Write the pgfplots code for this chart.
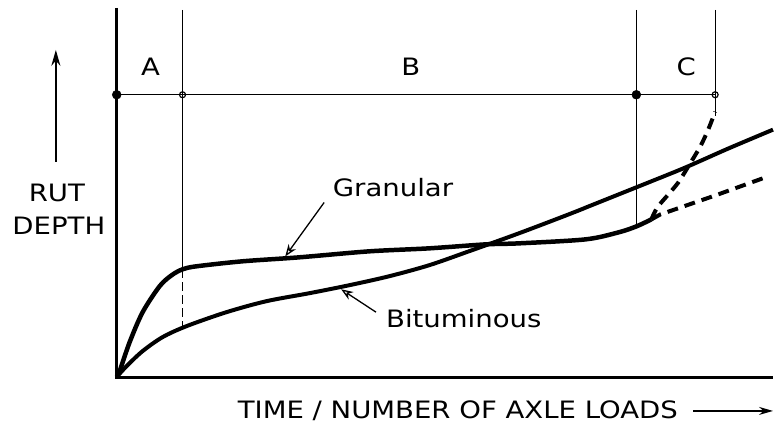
\documentclass[border=0pt]{standalone}
\usepackage{fontspec}
\setmainfont[FakeStretch=1.15]{DejaVu Sans}
\usepackage{pgfplots}
\pgfplotsset{compat=1.18}
\usetikzlibrary{arrows.meta}

\begin{document}
\begin{tikzpicture}
\begin{axis}[
  scale only axis, width=658pt, height=370pt,
  xmin=0, xmax=658, ymin=0, ymax=370,
  axis lines=none, clip=false,
  font=\fontsize{24}{28}\selectfont,
]
\path (axis cs:-117,-46) rectangle (axis cs:658,378);

% axes
\addplot[black, line width=3pt] coordinates {(0,370) (0,0) (658,0)};

% phase boundaries
\addplot[black, line width=1.1pt] coordinates {(66,368) (66,108)};
\addplot[black, line width=1.1pt, dash pattern=on 9pt off 4pt] coordinates {(66,108) (66,50)};
\addplot[black, line width=1.1pt] coordinates {(521,368) (521,151)};
\addplot[black, line width=1.1pt] coordinates {(600,368) (600,262)};
\addplot[black, line width=1.5pt] coordinates {(0,283) (600,283)};
\addplot[black, only marks, mark=*, mark size=4.5pt] coordinates {(0,283) (521,283)};
\addplot[black, only marks, mark=o, mark size=3pt, mark options={line width=1.2pt, fill=white}] coordinates {(66,283) (600,283)};

% granular
\addplot[black, line width=4.5pt, smooth, tension=0.5] coordinates {
 (0,0) (3,6) (13,35) (26,65) (43,91) (55,102) (66,108) (80,111)
 (126,116) (183,120) (253,126) (313,129) (370,133) (403,134)
 (470,138) (503,145) (521,151) (536,158)
};
\addplot[black, line width=4pt, dash pattern=on 11pt off 7pt] coordinates {
 (536,158) (545,163) (600,182) (650,200)
};
\addplot[black, line width=4pt, smooth, dash pattern=on 11pt off 7pt] coordinates {
 (536,158) (542,170) (553,183) (563,195) (573,211) (585,231) (593,248) (600,266)
};

% bituminous
\addplot[black, line width=4pt, smooth, tension=0.5] coordinates {
 (0,0) (10,11) (26,26) (46,40) (70,51) (110,65) (150,76) (193,84)
 (233,92) (273,101) (313,112) (353,126) (403,144) (453,163)
 (483,175) (533,195) (570,210) (613,229) (658,248)
};

% labels
\node at (axis cs:34,311) {A};
\node at (axis cs:295,311) {B};
\node at (axis cs:571,311) {C};
\node at (axis cs:277,190) {Granular};
\node at (axis cs:348,59) {Bituminous};
\addplot[black, line width=1.3pt, -{Stealth[length=12pt, width=9pt, open]}] coordinates {(208,175) (169,121)};
\addplot[black, line width=1.3pt, -{Stealth[length=12pt, width=9pt, open]}] coordinates {(260,65) (225,88)};

\node at (axis cs:-60,185) {RUT};
\node at (axis cs:-58,152) {DEPTH};
\addplot[black, line width=2pt, -{Stealth[length=16pt, width=9pt]}] coordinates {(-61,216) (-61,328)};

\node at (axis cs:342,-34) {TIME / NUMBER OF AXLE LOADS};
\addplot[black, line width=1.5pt, -{Stealth[length=14pt, width=8pt]}] coordinates {(578,-34) (658,-34)};
\end{axis}
\end{tikzpicture}
\end{document}
